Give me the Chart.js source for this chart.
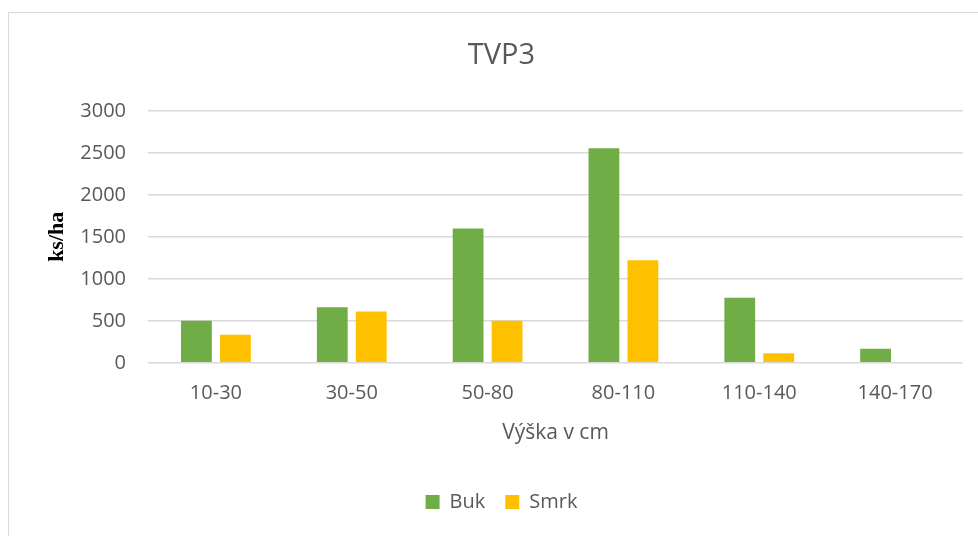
<!DOCTYPE html>
<html>
<head>
<meta charset="utf-8">
<script src="https://cdn.jsdelivr.net/npm/chart.js@4"></script>
<style>
  html, body { margin: 0; padding: 0; background: #fff; }
  #wrap { position: relative; width: 978px; height: 536px; }
  #frame { position: absolute; left: 8px; top: 12px; width: 980px; height: 540px;
           border: 1.5px solid #d9d9d9; box-sizing: border-box; pointer-events: none; }
</style>
</head>
<body>
<div id="wrap">
  <canvas id="chart" width="978" height="536"></canvas>
  <div id="frame"></div>
</div>
<script>
// === Données ===
const categories = ["10-30", "30-50", "50-80", "80-110", "110-140", "140-170"];
const buk = [500, 660, 1600, 2555, 775, 167];
const smrk = [335, 610, 500, 1220, 115, 0];
const yTicks = [0, 500, 1000, 1500, 2000, 2500, 3000];

const textColor = "#595959";
const gridColor = "#d9d9d9";
const baseFont = "'Open Sans', 'DejaVu Sans', sans-serif";

// === Graphe ===
const ctx = document.getElementById("chart").getContext("2d");
new Chart(ctx, {
  type: "bar",
  data: {
    labels: categories,
    datasets: [
      { label: "Buk", data: buk, backgroundColor: "#70ad47" },
      { label: "Smrk", data: smrk, backgroundColor: "#ffc000" }
    ]
  },
  options: {
    responsive: false,
    animation: false,
    devicePixelRatio: 1,
    categoryPercentage: 0.574,
    barPercentage: 0.79,
    layout: { padding: { left: 40, right: 15, top: 38, bottom: 14 } },
    plugins: {
      title: {
        display: true,
        text: "TVP3",
        color: textColor,
        font: { family: baseFont, size: 29, weight: "normal" },
        padding: { top: 0, bottom: 38 }
      },
      legend: {
        position: "bottom",
        labels: {
          color: textColor,
          font: { family: baseFont, size: 20 },
          boxWidth: 14,
          boxHeight: 14,
          padding: 20
        }
      },
      tooltip: { enabled: false }
    },
    scales: {
      x: {
        grid: { display: false },
        border: { display: false },
        ticks: { color: textColor, font: { family: baseFont, size: 20 }, padding: 10 },
        title: {
          display: true,
          text: "Výška v cm",
          color: textColor,
          font: { family: baseFont, size: 21 },
          padding: { top: 6, bottom: 26 }
        }
      },
      y: {
        min: 0,
        max: 3000,
        afterBuildTicks: (axis) => { axis.ticks = yTicks.map(v => ({ value: v })); },
        afterFit: (axis) => { axis.width = 108; },
        grid: { color: gridColor, lineWidth: 1.5, drawTicks: false },
        border: { display: false },
        ticks: {
          color: textColor,
          font: { family: baseFont, size: 20 },
          padding: 22,
          callback: (v) => String(v)
        },
        title: {
          display: true,
          text: "ks/ha",
          color: "#000",
          font: { family: "'Liberation Serif', 'Times New Roman', serif", size: 22, weight: "bold" },
          padding: 4
        }
      }
    }
  }
});
</script>
</body>
</html>
